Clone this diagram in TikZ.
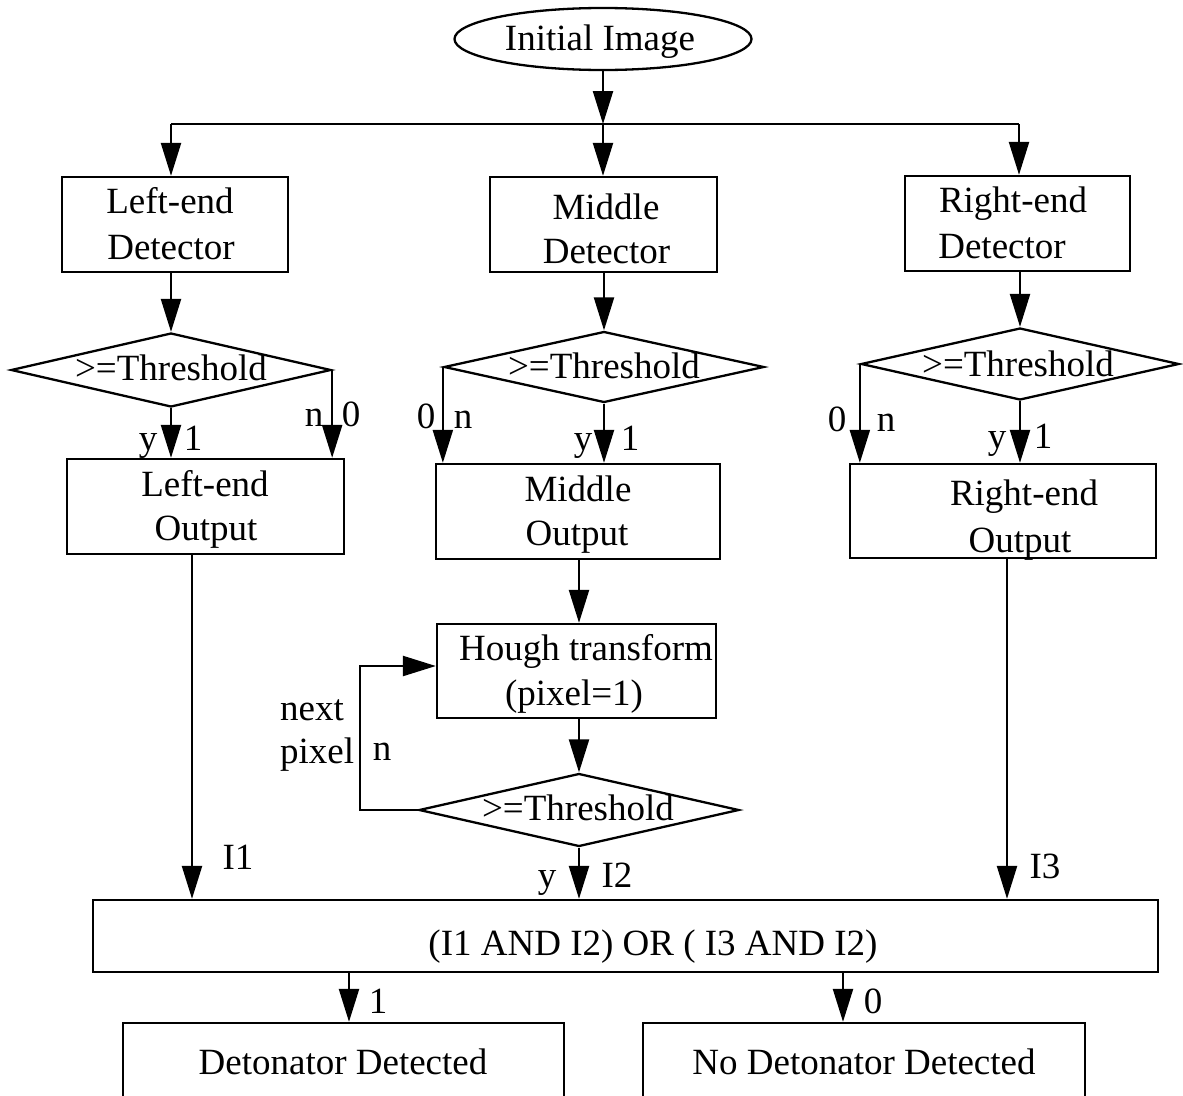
\documentclass[tikz,border=0pt]{standalone}
\usepackage{fontspec}
\setmainfont{Liberation Serif}
\usetikzlibrary{arrows.meta,shapes.geometric}
\begin{document}
\begin{tikzpicture}[x=1pt,y=-1pt,line width=2.3pt,
  box/.style={draw, rectangle, inner sep=0pt},
  dia/.style={draw, diamond, inner sep=0pt},
  oval/.style={draw, ellipse, inner sep=0pt},
  txt/.style={inner sep=0pt, font=\fontsize{37}{44}\selectfont, text height=24.4pt, text depth=0pt},
  arr/.style={-{Triangle[length=33pt,width=20pt]}}]
\useasboundingbox (0,0) rectangle (1183,1095);
\clip (0,0) rectangle (1183,1095);
% shapes
\node[oval, minimum width=297pt, minimum height=62pt] (init) at (603,39) {};
\node[box, minimum width=226pt, minimum height=95pt] (ld) at (175,224.5) {};
\node[box, minimum width=227pt, minimum height=95pt] (md) at (603.5,224.5) {};
\node[box, minimum width=225pt, minimum height=95pt] (rd) at (1017.5,223.5) {};
\node[dia, minimum width=320pt, minimum height=74pt] (ldia) at (171,370) {};
\node[dia, minimum width=320pt, minimum height=71pt] (mdia) at (604,367) {};
\node[dia, minimum width=318pt, minimum height=72pt] (rdia) at (1020,364) {};
\node[box, minimum width=277pt, minimum height=95pt] (lo) at (205.5,506.5) {};
\node[box, minimum width=284pt, minimum height=95pt] (mo) at (578,511.5) {};
\node[box, minimum width=306pt, minimum height=94pt] (ro) at (1003,511) {};
\node[box, minimum width=279pt, minimum height=94pt] (hough) at (576.5,671) {};
\node[dia, minimum width=320pt, minimum height=73pt] (bdia) at (579,810) {};
\node[box, minimum width=1065pt, minimum height=72pt] (main) at (625.5,936) {};
\node[box, minimum width=441pt, minimum height=90pt] (dd) at (343.5,1068) {};
\node[box, minimum width=442pt, minimum height=90pt] (nd) at (864,1068) {};
% texts
\node[txt] (t0) at (600,38) {Initial Image};
\node[txt] (t1a) at (170,201) {Left-end};
\node[txt] (t1b) at (171,247) {Detector};
\node[txt] (t2a) at (606,207) {Middle};
\node[txt] (t2b) at (606.5,251) {Detector};
\node[txt] (t3a) at (1013,200) {Right-end};
\node[txt] (t3b) at (1002,246) {Detector};
\node[txt] (th1) at (171,368) {>=Threshold};
\node[txt] (th2) at (604,366) {>=Threshold};
\node[txt] (th3) at (1018,364) {>=Threshold};
\node[txt] (th4) at (578,808) {>=Threshold};
\node[txt] (t4a) at (205,484) {Left-end};
\node[txt] (t4b) at (206,528) {Output};
\node[txt] (t5a) at (578,489) {Middle};
\node[txt] (t5b) at (577,533) {Output};
\node[txt] (t6a) at (1024,493) {Right-end};
\node[txt] (t6b) at (1020,540) {Output};
\node[txt] (t7a) at (586,648) {Hough transform};
\node[txt] (t7b) at (574,693) {(pixel=1)};
\node[txt] (t8) at (653,943) {(I1 AND I2) OR ( I3 AND I2)};
\node[txt] (t9) at (343,1062) {Detonator Detected};
\node[txt] (t10) at (864,1062) {No Detonator Detected};
\node[txt, anchor=west] (nx) at (279,708) {next};
\node[txt, anchor=west] (px) at (279,751) {pixel};
% labels
\node[txt] (la1) at (148,438) {y};
\node[txt] (la2) at (193,438) {1};
\node[txt] (la3) at (314,414) {n};
\node[txt] (la4) at (351,414) {0};
\node[txt] (lb1) at (426,416) {0};
\node[txt] (lb2) at (463,416) {n};
\node[txt] (lb3) at (583,438) {y};
\node[txt] (lb4) at (630,438) {1};
\node[txt] (lc1) at (837,419) {0};
\node[txt] (lc2) at (886,419) {n};
\node[txt] (lc3) at (997,436) {y};
\node[txt] (lc4) at (1043,436) {1};
\node[txt] (ld1) at (382,748) {n};
\node[txt] (ld2) at (547,875) {y};
\node[txt] (ld3) at (617,875) {I2};
\node[txt] (le1) at (238,857) {I1};
\node[txt] (le2) at (1045,866) {I3};
\node[txt] (lf1) at (378,1001) {1};
\node[txt] (lf2) at (873,1001) {0};
% connectors
\coordinate (j0) at (603,124);
\coordinate (j1) at (171,124);
\coordinate (j3) at (1019,124);
\draw[arr] (init.south) -- (j0);
\draw (j1) -- (j3);
\draw[arr] (j1) -- (j1 |- ld.north);
\draw[arr] (j0) -- (j0 |- md.north);
\draw[arr] (j3) -- (j3 |- rd.north);
\draw[arr] (ldia.north |- ld.south) -- (ldia.north);
\draw[arr] (mdia.north |- md.south) -- (mdia.north);
\draw[arr] (rdia.north |- rd.south) -- (rdia.north);
\draw[arr] (ldia.south) -- (ldia.south |- lo.north);
\draw[arr] (ldia.east) -- (ldia.east |- lo.north);
\draw[arr] (mdia.south) -- (mdia.south |- mo.north);
\draw[arr] (mdia.west) -- (mdia.west |- mo.north);
\draw[arr] (rdia.south) -- (rdia.south |- ro.north);
\draw[arr] (rdia.west) -- (rdia.west |- ro.north);
\draw[arr] (bdia.north |- mo.south) -- (bdia.north |- hough.north);
\draw[arr] (bdia.north |- hough.south) -- (bdia.north);
\draw[arr] (bdia.west) -- ++(-58,0) |- ([yshift=5pt]hough.west);
\draw[arr] (bdia.south) -- (bdia.south |- main.north);
\draw[arr] ([xshift=-13.5pt]lo.south) -- ([xshift=-13.5pt]lo.south |- main.north);
\draw[arr] ([xshift=4pt]ro.south) -- ([xshift=4pt]ro.south |- main.north);
\draw[arr] ([xshift=5.5pt]dd.north |- main.south) -- ([xshift=5.5pt]dd.north);
\draw[arr] ([xshift=-21pt]nd.north |- main.south) -- ([xshift=-21pt]nd.north);
\end{tikzpicture}
\end{document}
